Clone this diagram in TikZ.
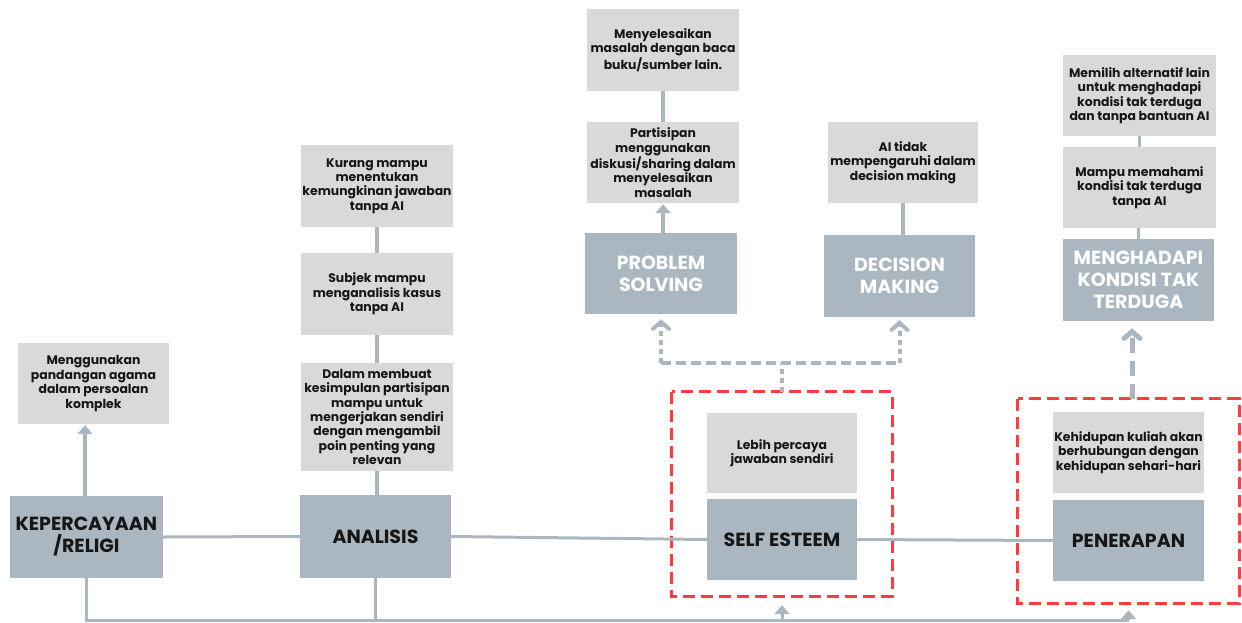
\documentclass[tikz,border=0pt]{standalone}
\usepackage{fontspec}
\setmainfont{Poppins}
\usetikzlibrary{arrows.meta}
\definecolor{darkbox}{HTML}{ABB7C0}
\definecolor{lightbox}{HTML}{D9D9D9}
\definecolor{conncol}{HTML}{ABB7C0}
\definecolor{redline}{HTML}{FF3B3B}
\definecolor{txt}{HTML}{161616}
\tikzset{
  lbox/.style={fill=lightbox, draw=none, inner sep=0pt, align=center, text=txt,
    font=\fontsize{12.4}{14.4}\selectfont\bfseries},
  dbox/.style={fill=darkbox, draw=none, inner sep=0pt, align=center, text=txt,
    font=\fontsize{19}{22}\selectfont\bfseries},
  wbox/.style={dbox, text=white},
  conn/.style={draw=conncol, line width=3.5pt},
  hconn/.style={draw=conncol, line width=3pt},
  redbox/.style={draw=redline, line width=3pt, dash pattern=on 12pt off 6pt},
  tri/.style={-{Triangle[width=15pt,length=9pt]}},
  chev/.style={-{Straight Barb[width=16pt,length=7pt,line cap=round]}},
  dotv/.style={draw=conncol, line width=4pt, dash pattern=on 5pt off 4pt},
  dashh/.style={draw=conncol, line width=4pt, dash pattern=on 10pt off 5pt},
  bigdash/.style={draw=conncol, line width=5pt, dash pattern=on 15pt off 8pt},
}
\begin{document}
\begin{tikzpicture}[x=1pt,y=-1pt]
\useasboundingbox (0,0) rectangle (1242,623);
% group frames
\node[inner sep=0, minimum width=220pt, minimum height=204pt] (red1) at (782,494) {};
\node[inner sep=0, minimum width=221pt, minimum height=204pt] (red2) at (1128.5,501) {};
\draw[redbox] (red1.north west) rectangle (red1.south east);
\draw[redbox] (red2.north west) rectangle (red2.south east);
% main boxes
\node[dbox, minimum width=153pt, minimum height=82pt] (kep) at (86.5,537) {KEPERCAYAAN\\/RELIGI};
\node[lbox, minimum width=151pt, minimum height=81pt] (kepT) at (93.5,383.5) {Menggunakan\\pandangan agama\\dalam persoalan\\komplek};
\node[dbox, minimum width=151pt, minimum height=83pt] (ana) at (375.5,536.5) {ANALISIS};
\node[lbox, minimum width=152pt, minimum height=82pt] (a1) at (377,186) {Kurang mampu\\menentukan\\kemungkinan jawaban\\tanpa AI};
\node[lbox, minimum width=152pt, minimum height=82pt] (a2) at (377,294) {Subjek mampu\\menganalisis kasus\\tanpa AI};
\node[lbox, minimum width=152pt, minimum height=108pt] (a3) at (377,417) {Dalam membuat\\kesimpulan partisipan\\mampu untuk\\mengerjakan sendiri\\dengan mengambil\\poin penting yang\\relevan};
\node[lbox, minimum width=152pt, minimum height=82pt] (p1) at (663,50) {Menyelesaikan\\masalah dengan baca\\buku/sumber lain.};
\node[lbox, minimum width=152pt, minimum height=81pt] (p2) at (663,162.5) {Partisipan\\menggunakan\\diskusi/sharing dalam\\menyelesaikan\\masalah};
\node[wbox, minimum width=152pt, minimum height=81pt] (ps) at (661,273.5) {PROBLEM\\SOLVING};
\node[lbox, minimum width=150pt, minimum height=81pt] (d1) at (903,162.5) {AI tidak\\mempengaruhi dalam\\decision making};
\node[wbox, minimum width=151pt, minimum height=82pt] (dm) at (899.5,276) {DECISION\\MAKING};
\node[lbox, minimum width=153pt, minimum height=81pt] (m1) at (1139.5,95.5) {Memilih alternatif lain\\untuk menghadapi\\kondisi tak terduga\\dan tanpa bantuan AI};
\node[lbox, minimum width=153pt, minimum height=81pt] (m2) at (1139.5,187.5) {Mampu memahami\\kondisi tak terduga\\tanpa AI};
\node[wbox, minimum width=151pt, minimum height=82pt] (mk) at (1138.5,280) {MENGHADAPI\\KONDISI TAK\\TERDUGA};
\node[lbox, minimum width=150pt, minimum height=80pt] (s1) at (782,453) {Lebih percaya\\jawaban sendiri};
\node[dbox, minimum width=150pt, minimum height=81pt] (se) at (782,539.5) {SELF ESTEEM};
\node[lbox, minimum width=151pt, minimum height=81pt] (k1) at (1128.5,452.5) {Kehidupan kuliah akan\\berhubungan dengan\\kehidupan sehari-hari};
\node[dbox, minimum width=151pt, minimum height=81pt] (pen) at (1128.5,540.5) {PENERAPAN};
% connectors
\draw[conn, tri] (kep.north -| 85,0) -- ([yshift=-1pt]kepT.south -| 85,0);
\draw[hconn] (kep.east) -- (ana.west);
\draw[hconn] (ana.east) -- (se.west);
\draw[hconn] (se.east) -- (pen.west);
\draw[conn] (ana.north -| a3.south) -- (a3.south);
\draw[conn] (a3.north) -- (a2.south);
\draw[conn] (a2.north) -- (a1.south);
\draw[conn, tri] (ps.north -| p2.south) -- ([yshift=-1pt]p2.south);
\draw[conn] (p2.north) -- (p1.south);
\draw[conn] (dm.north -| d1.south) -- (d1.south);
\draw[conn] (mk.north) -- (mk.north |- m2.south);
\draw[conn] (m2.north) -- (m1.south);
% dashed from self esteem group
\path (red1.north) ++(0,-29) coordinate (j);
\draw[dotv] (red1.north) -- (j);
\draw[dashh] (j -| ps.south) -- (j -| dm.south);
\draw[dotv, chev] (j -| ps.south) -- ([yshift=-5pt]ps.south);
\draw[dotv, chev] (j -| dm.south) -- ([yshift=-3pt]dm.south);
% dashed from penerapan group
\draw[bigdash, chev] (red2.north -| 1132,0) -- ([yshift=-7pt]mk.south -| 1132,0);
% bottom line
\path (kep.south) ++(0,42) coordinate (bl);
\draw[hconn] (kep.south) -- (bl) -- (bl -| red2.south);
\draw[hconn] (ana.south) -- (ana.south |- bl);
\draw[hconn, tri] (bl -| red1.south) -- ([yshift=-9pt]red1.south);
\draw[hconn, tri] (bl -| red2.south) -- ([yshift=-7pt]red2.south);
\end{tikzpicture}
\end{document}
